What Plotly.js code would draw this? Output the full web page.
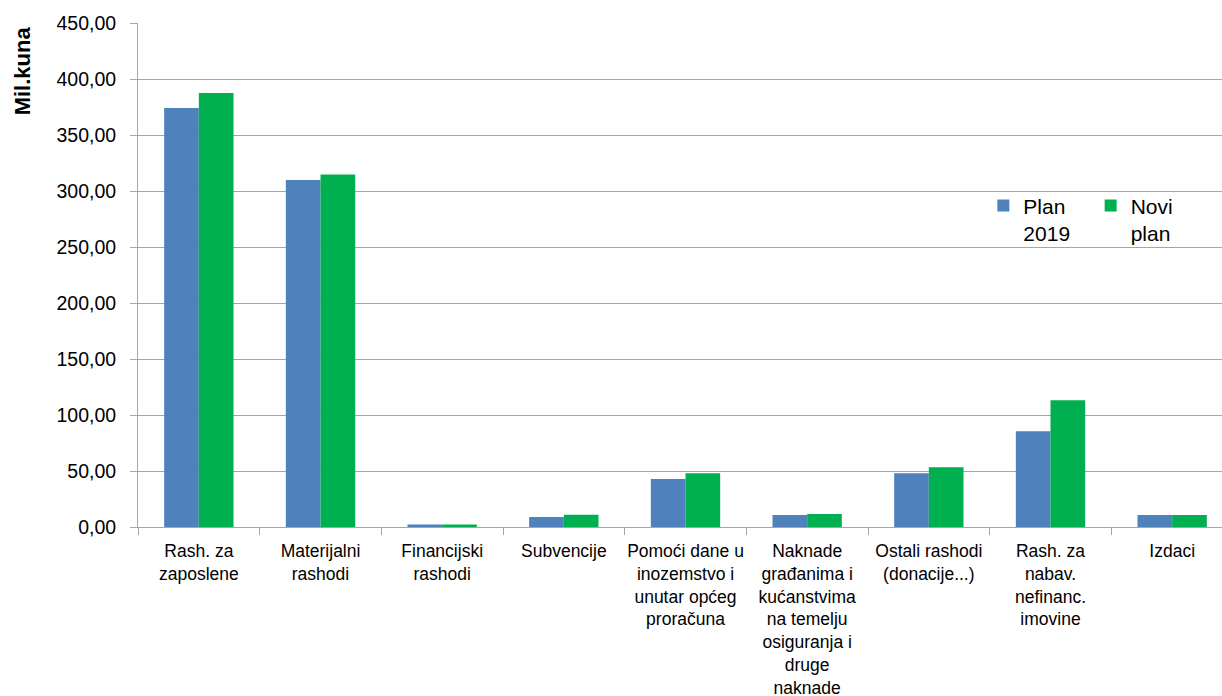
<!DOCTYPE html>
<html>
<head>
<meta charset="utf-8">
<script src="https://cdn.plot.ly/plotly-3.0.1.min.js"></script>
<style>
html,body{margin:0;padding:0;overflow:hidden;background:#fff;}
#chart{width:1240px;height:696px;}
</style>
</head>
<body>
<div id="chart"></div>
<script>
const categories = [
  "Rash. za<br>zaposlene",
  "Materijalni<br>rashodi",
  "Financijski<br>rashodi",
  "Subvencije",
  "Pomoći dane u<br>inozemstvo i<br>unutar općeg<br>proračuna",
  "Naknade<br>građanima i<br>kućanstvima<br>na temelju<br>osiguranja i<br>druge<br>naknade",
  "Ostali rashodi<br>(donacije...)",
  "Rash. za<br>nabav.<br>nefinanc.<br>imovine",
  "Izdaci"
];
const plan2019 = [374.0, 309.8, 2.3, 8.9, 42.9, 10.7, 47.9, 85.4, 10.7];
const noviPlan = [387.5, 314.8, 2.3, 11.0, 47.9, 11.6, 53.3, 113.1, 10.7];
const seriesNames = ["Plan<br>2019", "Novi<br>plan"];
const yTitle = "Mil.kuna";

const traces = [
  {type:'bar', x:categories, y:plan2019, name:seriesNames[0], legend:'legend',
   marker:{color:'#4f81bd', line:{width:0}}},
  {type:'bar', x:categories, y:noviPlan, name:seriesNames[1], legend:'legend2',
   marker:{color:'#00b050', line:{width:0}}}
];

const legendBase = {orientation:'v', xanchor:'left', yanchor:'top',
  font:{size:21, color:'#000'}, valign:'top', bgcolor:'rgba(0,0,0,0)'};

const layout = {
  width:1240, height:696,
  margin:{l:138, r:7, t:22.5, b:168.5},
  paper_bgcolor:'#fff', plot_bgcolor:'#fff',
  separators:', ',
  barmode:'group', bargap:0.43, bargroupgap:0,
  font:{family:'Liberation Sans, Arial, sans-serif', color:'#000'},
  showlegend:true,
  legend:Object.assign({}, legendBase, {x:0.772, y:0.678}),
  legend2:Object.assign({}, legendBase, {x:0.870, y:0.678}),
  xaxis:{type:'category', tickson:'boundaries', ticks:'outside', ticklen:7,
         tickcolor:'#a6a6a6', showline:true, linecolor:'#a6a6a6', linewidth:1,
         showgrid:false, tickfont:{size:17.5, color:'#000'}, tickangle:0,
         ticklabelstandoff:8, automargin:false},
  yaxis:{range:[0,450], dtick:50, tickformat:'.2f', ticks:'outside', ticklen:7,
         tickcolor:'#a6a6a6', showline:true, linecolor:'#a6a6a6', linewidth:1,
         showgrid:true, gridcolor:'#a6a6a6', gridwidth:1, zeroline:false,
         tickfont:{size:19.5, color:'#000'}, ticklabelstandoff:10, automargin:false},
  annotations:[{text:yTitle, xref:'paper', yref:'paper', x:-0.1055, y:0.905,
                xanchor:'center', yanchor:'middle', textangle:-90, showarrow:false,
                font:{size:22, color:'#000', family:'Liberation Sans, Arial, sans-serif', weight:'bold'}}]
};

Plotly.newPlot('chart', traces, layout, {displayModeBar:false, staticPlot:true});
</script>
</body>
</html>
